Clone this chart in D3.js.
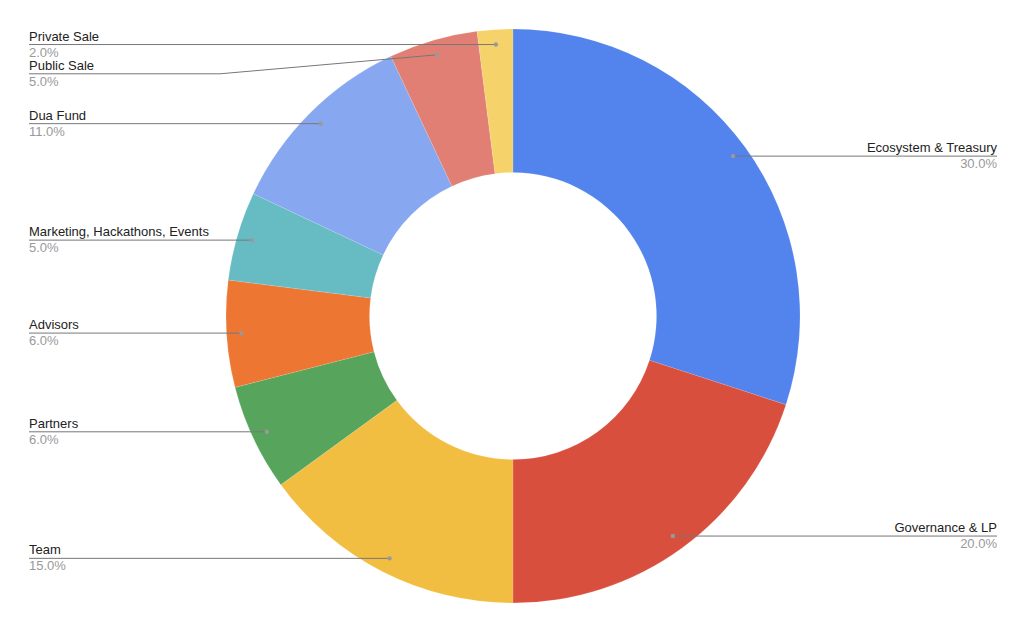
<!DOCTYPE html>
<html><head><meta charset="utf-8">
<script src="https://cdn.jsdelivr.net/npm/d3@7"></script>
<style>body{margin:0;background:#fff}svg{display:block}</style>
</head><body>
<script>
const categories = ["Ecosystem & Treasury","Governance & LP","Team","Partners","Advisors","Marketing, Hackathons, Events","Dua Fund","Public Sale","Private Sale"];
const values = [30,20,15,6,6,5,11,5,2];
const colors = ["#5383ec","#d94f3e","#f2be42","#57a55c","#ed7632","#67bcc4","#87a8f0","#e27f74","#f5d36a"];
// label line y override (label pushed down to avoid overlap)
const labelOffsets = [0,0,0,0,0,0,0,19,0];

const W=1024,H=631,cx=513,cy=316,R=287,r0=143.5,rDot=272;
const svg=d3.select("body").append("svg").attr("width",W).attr("height",H);
const data=categories.map((c,i)=>({name:c,value:values[i],color:colors[i],off:labelOffsets[i]}));
const pie=d3.pie().value(d=>d.value).sort(null);
const arcs=pie(data);
const arc=d3.arc().innerRadius(r0).outerRadius(R);
const g=svg.append("g").attr("transform",`translate(${cx},${cy})`);
g.selectAll("path").data(arcs).join("path").attr("d",arc).attr("fill",d=>d.data.color)
 .attr("stroke","#fff").attr("stroke-width",0.2).attr("stroke-opacity",0.6);

const total=d3.sum(values);
const fmt=d3.format(".1f");
arcs.forEach(a=>{
  const m=(a.startAngle+a.endAngle)/2;
  const x=cx+rDot*Math.sin(m), y=cy-rDot*Math.cos(m);
  const right = Math.sin(m)>0;
  const ly=y+a.data.off;
  const tx = right?997:29;
  let pts;
  if(a.data.off){
    const bx = 220;
    pts=[[x,y],[bx,ly],[tx,ly]];
  } else pts=[[x,y],[tx,ly]];
  svg.append("path").attr("d",d3.line()(pts)).attr("fill","none").attr("stroke","#777").attr("stroke-width",1);
  svg.append("circle").attr("cx",x).attr("cy",y).attr("r",2.2).attr("fill","#999");
  svg.append("text").attr("x",tx).attr("y",ly-4).attr("text-anchor",right?"end":"start")
    .attr("font-family","Liberation Sans, Arial, sans-serif").attr("font-size",13).attr("fill","#222").text(a.data.name);
  svg.append("text").attr("x",tx).attr("y",ly+12).attr("text-anchor",right?"end":"start")
    .attr("font-family","Liberation Sans, Arial, sans-serif").attr("font-size",13).attr("fill","#999").text(fmt(a.data.value/total*100)+"%");
});
</script>
</body></html>
